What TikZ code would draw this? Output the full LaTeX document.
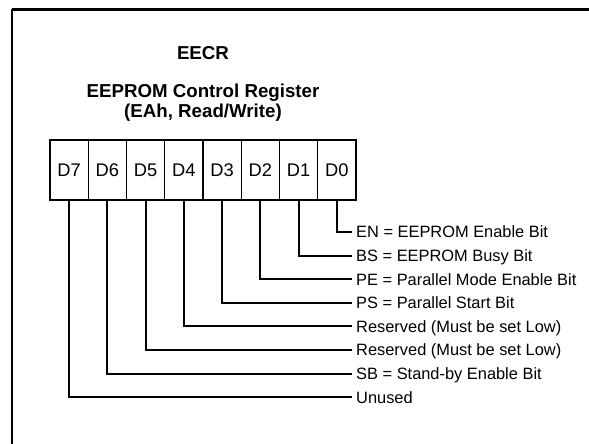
\documentclass[tikz,border=0pt]{standalone}
\usepackage{fontspec}
\setmainfont{Liberation Sans}
\begin{document}
\begin{tikzpicture}[x=1pt,y=-1pt,
  frameline/.style={line width=2pt},
  cell/.style={draw, line width=1.3pt, minimum width=38.25pt, minimum height=60pt, inner sep=0pt, font=\fontsize{18.3}{20}\selectfont},
  titletext/.style={font=\fontsize{18.7}{21}\selectfont\bfseries, inner sep=0pt},
  lbl/.style={anchor=west, inner xsep=4pt, inner ysep=0pt, text height=11.7pt, text depth=0pt, font=\fontsize{16.4}{18}\selectfont},
  conn/.style={line width=2pt}
]
\useasboundingbox (0,0) rectangle (589,444);
\clip (0,0) rectangle (589,444);
\draw[fill=white, draw=none] (0,0) rectangle (589,444);
% frame (open at right and bottom)
\draw[line width=2.6pt] (12,9.5) -- (600,9.5);
\draw[frameline] (12,9.5) -- (12,460);
% titles
\node[titletext] (t1) at (203,53) {EECR};
\node[titletext] (t2) at (203,93) {EEPROM Control Register};
\node[titletext] (t3) at (203,112.5) {(EAh, Read/Write)};
% cells
\foreach \i in {0,...,7}{
  \node[cell] (c\i) at ({50+38.25*(7-\i)+19.125},170) {D\i};
}
% labels
\node[lbl] (l0) at (352,232) {EN = EEPROM Enable Bit};
\node[lbl] (l1) at (352,255.6) {BS = EEPROM Busy Bit};
\node[lbl] (l2) at (352,279.2) {PE = Parallel Mode Enable Bit};
\node[lbl] (l3) at (352,302.8) {PS = Parallel Start Bit};
\node[lbl] (l4) at (352,326.4) {Reserved (Must be set Low)};
\node[lbl] (l5) at (352,350) {Reserved (Must be set Low)};
\node[lbl] (l6) at (352,373.6) {SB = Stand-by Enable Bit};
\node[lbl] (l7) at (352,397.2) {Unused};
% connectors
\foreach \i in {0,...,7}{
  \draw[conn] (c\i.south) |- (l\i.west);
}
\end{tikzpicture}
\end{document}
